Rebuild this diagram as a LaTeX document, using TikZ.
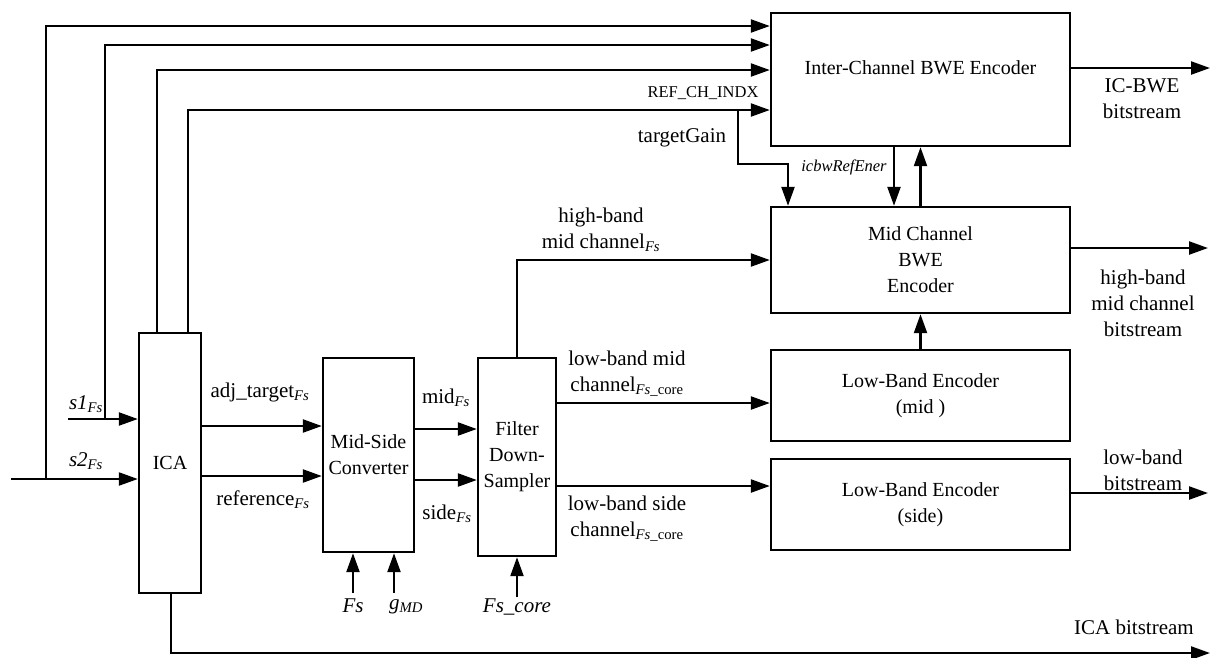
\documentclass[tikz,border=0pt]{standalone}
\usepackage{fontspec}
\setmainfont{Liberation Serif}
\usetikzlibrary{arrows.meta}
\newcommand\myboxfont{\fontsize{20}{26}\selectfont}
\newcommand\mylabfont{\fontsize{21}{26}\selectfont}
\begin{document}
\begin{tikzpicture}[x=1pt,y=-1pt,line width=2.3pt,
  box/.style={draw,line width=2.4pt,inner sep=0pt,align=center,font=\myboxfont},
  arr/.style={-{Triangle[length=19pt,width=13pt]}},
  lab/.style={inner sep=0pt,align=center,font=\mylabfont},
  small/.style={inner sep=0pt,font=\fontsize{16.5}{19}\selectfont}]
\useasboundingbox (0,0) rectangle (1213,657);

% blocks
\node[box,minimum width=62pt,minimum height=260pt] (ica) at (170,463) {ICA};
\node[box,minimum width=91pt,minimum height=194pt] (ms) at (368.5,455) {Mid-Side\\Converter};
\node[box,minimum width=78pt,minimum height=198pt] (fd) at (517,457) {Filter\\Down-\\Sampler};
\node[box,minimum width=299pt,minimum height=133pt,
      label={[inner sep=0pt,font=\myboxfont,yshift=11.5pt]center:Inter-Channel BWE Encoder}] (icbwe) at (920.5,79.5) {};
\node[box,minimum width=299pt,minimum height=106pt] (mbwe) at (920.5,260) {Mid Channel\\BWE\\Encoder};
\node[box,minimum width=299pt,minimum height=91pt] (lbm) at (920.5,395.5) {Low-Band Encoder\\(mid )};
\node[box,minimum width=299pt,minimum height=91pt] (lbs) at (920.5,504.5) {Low-Band Encoder\\(side)};

% coordinates
\coordinate (s2in) at (11,479);
\coordinate (s1in) at (68,419);
\coordinate (j1) at (46,479);
\coordinate (j2) at (105,419);
\coordinate (y26) at (0,26);
\coordinate (y45) at (0,45);
\coordinate (y70) at (0,70);
\coordinate (y110) at (0,110);
\coordinate (tg) at (738,110);
\coordinate (tgc) at (788,164);
\coordinate (outic) at (1210,68);
\coordinate (outmb) at (1208,248);
\coordinate (outlb) at (1208,493);
\coordinate (outica) at (1210,653);
\coordinate (hb) at (0,260);
\coordinate (lm) at (0,403);
\coordinate (ls) at (0,486);
\coordinate (ya) at (0,426);
\coordinate (yr) at (0,476);
\coordinate (ym) at (0,429);
\coordinate (ysd) at (0,480);
\coordinate (fsin) at (353,593);
\coordinate (gin) at (394,593);
\coordinate (fscin) at (517,597);

% connectors
\draw[arr] (s2in) -- (ica.west |- s2in);
\draw[arr] (s1in) -- (ica.west |- s1in);
\draw[arr] (j1) |- (icbwe.west |- y26);
\draw[arr] (j2) |- (icbwe.west |- y45);
\draw[arr] ([xshift=-13pt]ica.north) |- (icbwe.west |- y70);
\draw[arr] ([xshift=18pt]ica.north) |- (icbwe.west |- y110);
\draw[arr] (tg) |- (tgc) -- (mbwe.north -| tgc);
\draw[arr] ([xshift=-26.5pt]icbwe.south) -- ([xshift=-26.5pt]mbwe.north);
\draw[arr] (mbwe.north) -- (icbwe.south);
\draw[arr] (icbwe.east |- outic) -- (outic);
\draw[arr] (ica.east |- ya) -- (ms.west |- ya);
\draw[arr] (ica.east |- yr) -- (ms.west |- yr);
\draw[arr] (ms.east |- ym) -- (fd.west |- ym);
\draw[arr] (ms.east |- ysd) -- (fd.west |- ysd);
\draw[arr] (fd.north) |- (mbwe.west |- hb);
\draw[arr] (fd.east |- lm) -- (lbm.west |- lm);
\draw[arr] (fd.east |- ls) -- (lbs.west |- ls);
\draw[arr] (lbm.north) -- (mbwe.south);
\draw[arr] (mbwe.east |- outmb) -- (outmb);
\draw[arr] (lbs.east |- outlb) -- (outlb);
\draw[arr] ([xshift=1pt]ica.south) |- (outica);
\draw[arr] (fsin) -- (ms.south -| fsin);
\draw[arr] (gin) -- (ms.south -| gin);
\draw[arr] (fscin) -- (fd.south);

% labels
\node[lab] (ls1) at (86,404) {\textit{s1}\textsubscript{\textit{Fs}}};
\node[lab] (ls2) at (86,461) {\textit{s2}\textsubscript{\textit{Fs}}};
\node[lab] (ladj) at (260,392) {adj\_target\textsubscript{\textit{Fs}}};
\node[lab] (lref) at (263,500) {reference\textsubscript{\textit{Fs}}};
\node[lab] (lmid) at (446,398) {mid\textsubscript{\textit{Fs}}};
\node[lab] (lside) at (447,514) {side\textsubscript{\textit{Fs}}};
\node[lab] (lhb) at (601,230) {high-band\\mid channel\textsubscript{\textit{Fs}}};
\node[lab] (llm) at (627,374) {low-band mid\\channel\textsubscript{\textit{Fs}\_core}};
\node[lab] (lls) at (627,519) {low-band side\\channel\textsubscript{\textit{Fs}\_core}};
\node[small] (lrefch) at (703,93) {REF\_CH\_INDX};
\node[lab] (ltg) at (682,138) {targetGain};
\node[small,font=\fontsize{16.5}{19}\selectfont\itshape] (licb) at (844,167) {icbwRefEner};
\node[lab] (licbo) at (1142,99) {IC-BWE\\bitstream};
\node[lab] (lmbo) at (1143,303) {high-band\\mid channel\\bitstream};
\node[lab] (llbo) at (1143,470) {low-band\\bitstream};
\node[lab] (licao) at (1134,627) {ICA bitstream};
\node[lab] (lfs) at (353,606) {\textit{Fs}};
\node[lab] (lg) at (406,607) {\textit{g}\textsubscript{\textit{MD}}};
\node[lab] (lfsc) at (517,607) {\textit{Fs\_core}};
\end{tikzpicture}
\end{document}
